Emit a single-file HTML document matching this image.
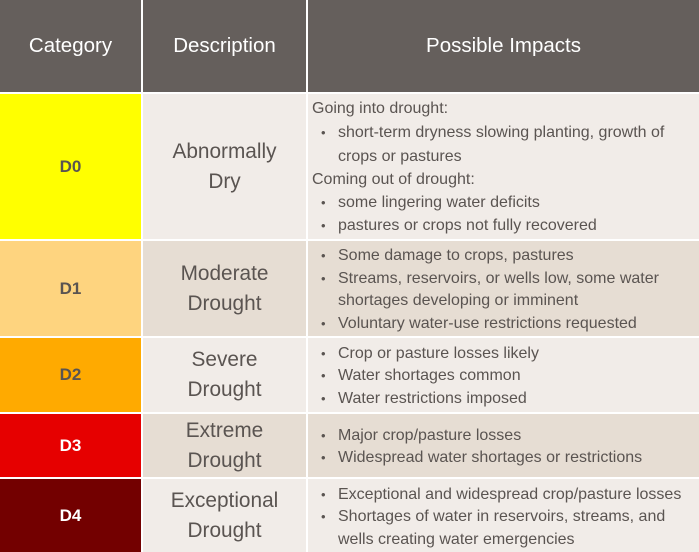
<!DOCTYPE html>
<html><head><style>
body{margin:0;width:699px;height:552px;background:#fff;font-family:"Liberation Sans",sans-serif;color:#5a5451;position:relative;overflow:hidden}
.c{position:absolute;box-sizing:border-box}
.h{background:#655f5c;color:#fff;font-size:20.5px;display:flex;align-items:center;justify-content:center}
.cat{font-weight:bold;font-size:17px;display:flex;align-items:center;justify-content:center}
.d{font-size:20.8px;line-height:30px;text-align:center;display:flex;align-items:center;justify-content:center}
.t{position:absolute;font-size:16px;white-space:nowrap}
.b{position:absolute;font-size:16px;white-space:nowrap}
.b::before{content:"•";position:absolute;left:-17px;font-size:13px;top:1px}
</style></head><body>
<div class="c h" style="left:0;top:0;width:141px;height:92px">Category</div>
<div class="c h" style="left:143px;top:0;width:163px;height:92px">Description</div>
<div class="c h" style="left:308px;top:0;width:391px;height:92px">Possible Impacts</div>

<div class="c cat" style="left:0;top:94px;width:141px;height:145px;background:#ffff00">D0</div>
<div class="c d" style="left:143px;top:94px;width:163px;height:145px;background:#f1ece8">Abnormally<br>Dry</div>
<div class="c" style="left:308px;top:94px;width:391px;height:145px;background:#f1ece8"></div>

<div class="c cat" style="left:0;top:241px;width:141px;height:95px;background:#fed47f">D1</div>
<div class="c d" style="left:143px;top:241px;width:163px;height:95px;background:#e6ddd3">Moderate<br>Drought</div>
<div class="c" style="left:308px;top:241px;width:391px;height:95px;background:#e6ddd3"></div>

<div class="c cat" style="left:0;top:338px;width:141px;height:74px;background:#ffaa00">D2</div>
<div class="c d" style="left:143px;top:338px;width:163px;height:74px;background:#f1ece8">Severe<br>Drought</div>
<div class="c" style="left:308px;top:338px;width:391px;height:74px;background:#f1ece8"></div>

<div class="c cat" style="left:0;top:414px;width:141px;height:63px;background:#e60000;color:#fff">D3</div>
<div class="c d" style="left:143px;top:414px;width:163px;height:63px;background:#e6ddd3">Extreme<br>Drought</div>
<div class="c" style="left:308px;top:414px;width:391px;height:63px;background:#e6ddd3"></div>

<div class="c cat" style="left:0;top:479px;width:141px;height:73px;background:#730000;color:#fff">D4</div>
<div class="c d" style="left:143px;top:479px;width:163px;height:73px;background:#f1ece8">Exceptional<br>Drought</div>
<div class="c" style="left:308px;top:479px;width:391px;height:73px;background:#f1ece8"></div>

<div class="t" style="left:312px;top:100px">Going into drought:</div>
<div class="b" style="left:338px;top:124px">short-term dryness slowing planting, growth of</div>
<div class="t" style="left:338px;top:148px">crops or pastures</div>
<div class="t" style="left:312px;top:171px">Coming out of drought:</div>
<div class="b" style="left:338px;top:194px">some lingering water deficits</div>
<div class="b" style="left:338px;top:217px">pastures or crops not fully recovered</div>

<div class="b" style="left:338px;top:247px">Some damage to crops, pastures</div>
<div class="b" style="left:338px;top:270px">Streams, reservoirs, or wells low, some water</div>
<div class="t" style="left:338px;top:292px">shortages developing or imminent</div>
<div class="b" style="left:338px;top:315px">Voluntary water-use restrictions requested</div>

<div class="b" style="left:338px;top:345px">Crop or pasture losses likely</div>
<div class="b" style="left:338px;top:367px">Water shortages common</div>
<div class="b" style="left:338px;top:390px">Water restrictions imposed</div>

<div class="b" style="left:338px;top:427px">Major crop/pasture losses</div>
<div class="b" style="left:338px;top:449px">Widespread water shortages or restrictions</div>

<div class="b" style="left:338px;top:486px">Exceptional and widespread crop/pasture losses</div>
<div class="b" style="left:338px;top:508px">Shortages of water in reservoirs, streams, and</div>
<div class="t" style="left:338px;top:531px">wells creating water emergencies</div>
</body></html>
